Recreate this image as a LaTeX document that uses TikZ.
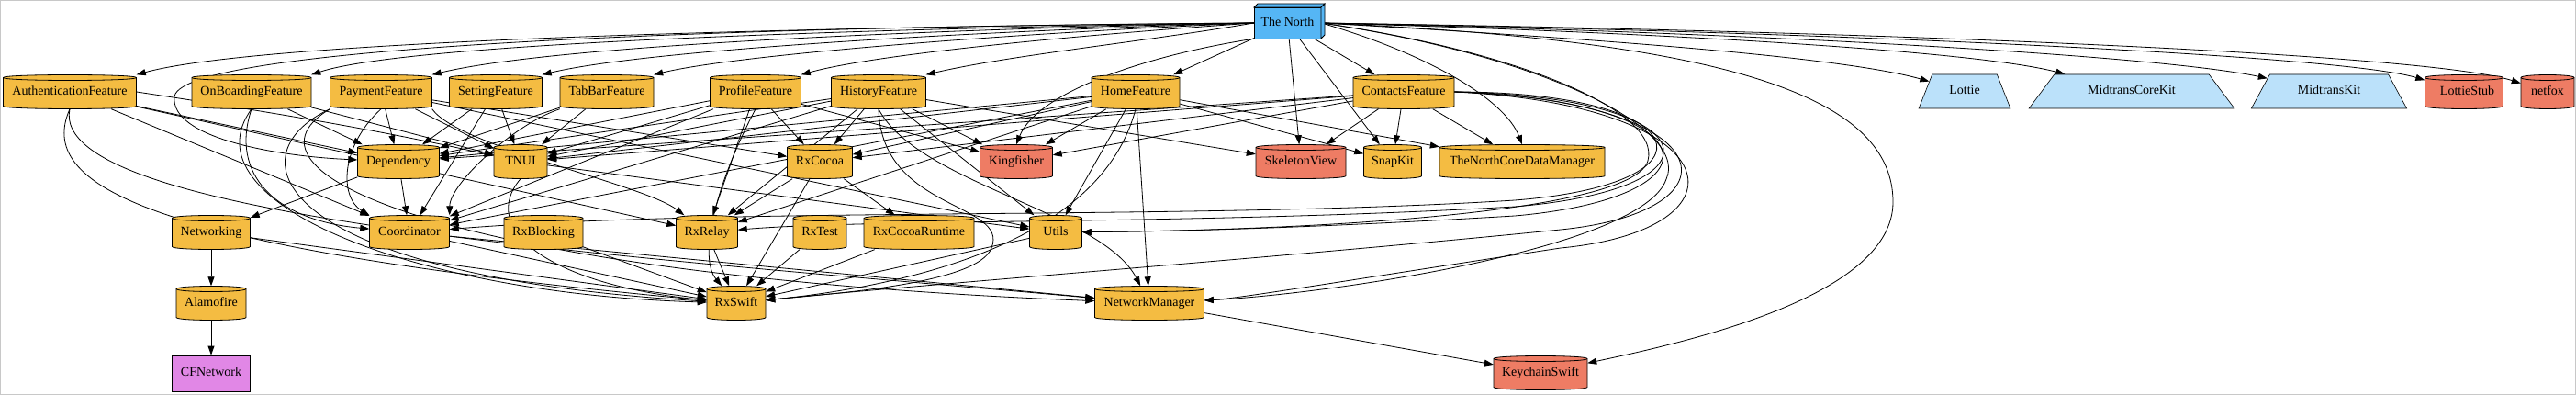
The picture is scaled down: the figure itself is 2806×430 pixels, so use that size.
\documentclass[tikz,border=0pt]{standalone}
\usepackage{fontspec}
\setmainfont{Liberation Serif}
\usetikzlibrary{arrows.meta,shapes.geometric}
\pgfdeclarelayer{bglayer}
\pgfdeclarelayer{edgelayer}
\pgfsetlayers{bglayer,edgelayer,main}
\definecolor{cOrange}{RGB}{244,188,66}
\definecolor{cSalmon}{RGB}{238,124,100}
\definecolor{cNorth}{RGB}{85,182,245}
\definecolor{cLight}{RGB}{187,225,250}
\definecolor{cViolet}{RGB}{225,135,230}
\definecolor{cFrame}{RGB}{200,200,200}
\tikzset{
  lbl/.style={font=\fontsize{14}{16}\selectfont, inner sep=0pt, minimum height=37pt, text height=9.5pt, text depth=3pt},
  e/.style={-{Triangle[length=10pt,width=7pt]}, line width=0.8pt},
  cylshape/.style={draw=black, line width=0.8pt},
  trap/.style={lbl, trapezium, trapezium stretches=true, draw=black, line width=0.6pt, fill=cLight},
  boxshape/.style={draw=black, line width=0.8pt, fill=cNorth},
}
\newcommand\cyl[6]{%
  \pgfmathsetmacro\cL{#2-#4/2}%
  \pgfmathsetmacro\cR{#2+#4/2}%
  \pgfmathsetmacro\cTr{#3-15.5}%
  \pgfmathsetmacro\cBr{#3+15.5}%
  \pgfmathsetmacro\cTc{#3-11.5}%
  \pgfmathsetmacro\cBc{#3+19.5}%
  \pgfmathsetmacro\cTo{#3-19.5}%
  \filldraw[cylshape, fill=#5] (\cL,\cTr) -- (\cL,\cBr) .. controls (\cL,\cBc) and (\cR,\cBc) .. (\cR,\cBr) -- (\cR,\cTr) .. controls (\cR,\cTo) and (\cL,\cTo) .. cycle;
  \draw[cylshape] (\cL,\cTr) .. controls (\cL,\cTc) and (\cR,\cTc) .. (\cR,\cTr);
  \node[lbl, minimum width=#4pt] (#1) at (#2,#3) {#6};
}
\begin{document}
\begin{tikzpicture}[x=1pt,y=-1pt]
\useasboundingbox (0,0) rectangle (2806,430);
\begin{pgfonlayer}{bglayer}
\fill[white] (0,0) rectangle (2806,430);
\draw[cFrame, line width=1pt] (0.5,0.5) rectangle (2805.5,429.5);
\end{pgfonlayer}

% The North (box3d)
\filldraw[boxshape] (1366,8) rectangle (1439,42);
\filldraw[boxshape] (1366,8) -- (1370,4) -- (1443,4) -- (1439,8) -- cycle;
\filldraw[boxshape] (1439,8) -- (1443,4) -- (1443,38) -- (1439,42) -- cycle;
\node[lbl, minimum width=73pt, minimum height=34pt] (tn) at (1402.5,25) {The North};

% row 1
\cyl{auth}{76}{100}{145}{cOrange}{AuthenticationFeature}
\cyl{onb}{274}{100}{130}{cOrange}{OnBoardingFeature}
\cyl{pay}{415}{100}{111}{cOrange}{PaymentFeature}
\cyl{set}{540}{100}{101}{cOrange}{SettingFeature}
\cyl{tab}{661}{100}{102}{cOrange}{TabBarFeature}
\cyl{prof}{823}{100}{99}{cOrange}{ProfileFeature}
\cyl{hist}{957}{100}{103}{cOrange}{HistoryFeature}
\cyl{home}{1237}{100}{96}{cOrange}{HomeFeature}
\cyl{cont}{1529}{100}{110}{cOrange}{ContactsFeature}
\node[trap, minimum width=100pt, trapezium left angle=61, trapezium right angle=61] (lottie) at (2140,99.5) {Lottie};
\node[trap, minimum width=224pt, trapezium left angle=38.5, trapezium right angle=38.5] (mck) at (2322,99.5) {MidtransCoreKit};
\node[trap, minimum width=170pt, trapezium left angle=49.6, trapezium right angle=49.6] (mk) at (2537,99.5) {MidtransKit};
\cyl{lstub}{2684}{100}{85}{cSalmon}{\_LottieStub}
\cyl{netfox}{2775}{100}{58}{cSalmon}{netfox}

% row 2
\cyl{dep}{434}{176}{89}{cOrange}{Dependency}
\cyl{tnui}{567}{176}{58}{cOrange}{TNUI}
\cyl{rxcocoa}{893}{176}{71}{cOrange}{RxCocoa}
\cyl{king}{1107}{176}{79}{cSalmon}{Kingfisher}
\cyl{skel}{1417}{176}{98}{cSalmon}{SkeletonView}
\cyl{snap}{1517}{176}{63}{cOrange}{SnapKit}
\cyl{tncdm}{1658}{176}{180}{cOrange}{TheNorthCoreDataManager}

% row 3
\cyl{networking}{230}{253}{85}{cOrange}{Networking}
\cyl{coord}{446}{253}{87}{cOrange}{Coordinator}
\cyl{rxblocking}{592}{253}{86}{cOrange}{RxBlocking}
\cyl{rxrelay}{770}{253}{67}{cOrange}{RxRelay}
\cyl{rxtest}{893}{253}{58}{cOrange}{RxTest}
\cyl{rxcr}{1001}{253}{120}{cOrange}{RxCocoaRuntime}
\cyl{utils}{1150}{253}{57}{cOrange}{Utils}

% row 4
\cyl{alamofire}{230}{330}{76}{cOrange}{Alamofire}
\cyl{rxswift}{802}{330}{64}{cOrange}{RxSwift}
\cyl{nm}{1252}{330}{119}{cOrange}{NetworkManager}

% row 5
\node[lbl, draw=black, line width=0.8pt, fill=cViolet, minimum width=85pt, minimum height=39pt] (cfn) at (230,406.5) {CFNetwork};
\cyl{keychain}{1678}{406}{102}{cSalmon}{KeychainSwift}

\begin{pgfonlayer}{edgelayer}
% The North
\draw[e] (tn.west) .. controls (1000,28) and (300,40) .. (auth.north east);
\draw[e] (tn.west) .. controls (1000,30) and (450,45) .. (onb.north east);
\draw[e] (tn.west) .. controls (1000,32) and (600,50) .. (pay.north east);
\draw[e] (tn.west) .. controls (1050,34) and (700,55) .. (set.north east);
\draw[e] (tn.west) .. controls (1100,36) and (800,60) .. (tab.north east);
\draw[e] (tn.west) .. controls (1150,40) and (950,60) .. (prof.north east);
\draw[e] (tn.west) .. controls (1250,45) and (1100,60) .. (hist.north east);
\draw[e] (tn) -- (home);
\draw[e] (tn) -- (cont);
\draw[e] (tn.south west) .. controls (1250,60) and (1130,100) .. (king.north);
\draw[e] (tn) -- (skel);
\draw[e] (tn) -- (snap);
\draw[e] (tn.east) .. controls (1560,60) and (1640,110) .. (tncdm.north);
\draw[e] (tn.east) .. controls (1700,40) and (2000,60) .. (lottie);
\draw[e] (tn.east) .. controls (1800,35) and (2150,55) .. (mck);
\draw[e] (tn.east) .. controls (1900,35) and (2350,60) .. (mk);
\draw[e] (tn.east) .. controls (2000,35) and (2550,60) .. (lstub);
\draw[e] (tn.east) .. controls (2100,35) and (2650,60) .. (netfox);
\draw[e] (tn.east) .. controls (1900,45) and (2062,110) .. (2062,220) .. controls (2062,320) and (1850,370) .. (keychain);
\draw[e] (tn.east) .. controls (1650,55) and (1810,120) .. (1795,175) .. controls (1780,230) and (1450,250) .. (utils);
\draw[e] (tn.east) .. controls (1680,60) and (1840,140) .. (1815,195) .. controls (1790,270) and (1450,320) .. (nm);
\draw[e] (tn.west) .. controls (900,28) and (200,45) .. (190,105) .. controls (185,150) and (300,170) .. (dep);
% Authentication
\draw[e] (auth) -- (dep);
\draw[e] (auth.east) .. controls (350,130) and (450,150) .. (tnui);
\draw[e] (auth) -- (coord);
\draw[e] (auth) -- (rxrelay);
\draw[e] (auth.south) .. controls (40,200) and (150,270) .. (rxswift);
\draw[e] (auth.south) .. controls (50,240) and (700,280) .. (nm);
% OnBoarding
\draw[e] (onb) -- (dep);
\draw[e] (onb) -- (tnui);
\draw[e] (onb.south) .. controls (250,190) and (300,240) .. (coord);
\draw[e] (onb.south) .. controls (200,220) and (450,320) .. (rxswift);
% Payment
\draw[e] (pay) -- (dep);
\draw[e] (pay) -- (tnui);
\draw[e] (pay.south) .. controls (370,160) and (370,215) .. (coord.north west);
\draw[e] (pay.south west) .. controls (250,170) and (300,300) .. (rxswift);
\draw[e] (pay.south west) .. controls (240,190) and (500,300) .. (nm);
\draw[e] (pay) -- (rxcocoa);
\draw[e] (pay.south east) .. controls (500,160) and (700,200) .. (rxrelay);
\draw[e] (pay) -- (utils);
% Setting
\draw[e] (set) -- (dep);
\draw[e] (set) -- (tnui);
\draw[e] (set) -- (coord);
% TabBar
\draw[e] (tab) -- (dep);
\draw[e] (tab) -- (tnui);
\draw[e] (tab.south west) .. controls (560,135) and (490,200) .. (coord.north east);
% Profile
\draw[e] (prof) -- (dep);
\draw[e] (prof) -- (tnui);
\draw[e] (prof) -- (coord);
\draw[e] (prof) -- (rxcocoa);
\draw[e] (prof) -- (king);
\draw[e] (prof) -- (rxrelay);
\draw[e] (prof.south) .. controls (780,200) and (760,280) .. (rxswift);
% History
\draw[e] (hist) -- (dep);
\draw[e] (hist) -- (tnui);
\draw[e] (hist) -- (coord);
\draw[e] (hist) -- (rxcocoa);
\draw[e] (hist) -- (king);
\draw[e] (hist) -- (skel);
\draw[e] (hist) -- (rxrelay);
\draw[e] (hist) -- (utils);
\draw[e] (hist.south) .. controls (960,230) and (1100,220) .. (1080,270) .. controls (1065,310) and (900,320) .. (rxswift);
\draw[e] (hist.south) .. controls (1000,200) and (1200,230) .. (nm);
% Home
\draw[e] (home) -- (dep);
\draw[e] (home) -- (tnui);
\draw[e] (home) -- (coord);
\draw[e] (home) -- (rxcocoa);
\draw[e] (home) -- (king);
\draw[e] (home) -- (rxrelay);
\draw[e] (home) -- (utils);
\draw[e] (home) -- (nm);
\draw[e] (home) -- (snap);
\draw[e] (home) -- (tncdm);
\draw[e] (home.south) .. controls (1200,260) and (1000,310) .. (rxswift);
% Contacts
\draw[e] (cont) -- (dep);
\draw[e] (cont) -- (tnui);
\draw[e] (cont) -- (rxcocoa);
\draw[e] (cont) -- (king);
\draw[e] (cont) -- (skel);
\draw[e] (cont) -- (snap);
\draw[e] (cont) -- (tncdm);
\draw[e] (cont.east) .. controls (1850,100) and (1880,200) .. (1650,218) .. controls (1300,240) and (800,225) .. (coord);
\draw[e] (cont.east) .. controls (1860,105) and (1890,205) .. (1650,225) .. controls (1300,245) and (950,238) .. (rxrelay);
\draw[e] (cont.east) .. controls (1870,110) and (1880,215) .. (1650,235) .. controls (1400,250) and (1250,252) .. (utils);
\draw[e] (cont.east) .. controls (1880,110) and (1900,230) .. (1700,250) .. controls (1400,280) and (1000,310) .. (rxswift);
\draw[e] (cont.east) .. controls (1890,115) and (1910,250) .. (1700,270) .. controls (1500,300) and (1350,325) .. (nm);
% libraries
\draw[e] (dep) -- (coord);
\draw[e] (dep) -- (networking);
\draw[e] (tnui.south) .. controls (520,250) and (600,310) .. (rxswift);
\draw[e] (tnui) -- (utils);
\draw[e] (coord) -- (rxswift);
\draw[e] (coord) -- (nm);
\draw[e] (networking) -- (alamofire);
\draw[e] (networking) -- (rxswift);
\draw[e] (alamofire) -- (cfn);
\draw[e] (rxblocking) -- (rxswift);
\draw[e] (rxcocoa) -- (rxrelay);
\draw[e] (rxcocoa) -- (rxswift);
\draw[e] (rxcocoa) -- (rxcr);
\draw[e] (rxrelay) -- (rxswift);
\draw[e] (rxtest) -- (rxswift);
\draw[e] (rxcr) -- (rxswift);
\draw[e] (utils) -- (rxswift);
\draw[e] (nm) -- (keychain);
\end{pgfonlayer}
\end{tikzpicture}
\end{document}
